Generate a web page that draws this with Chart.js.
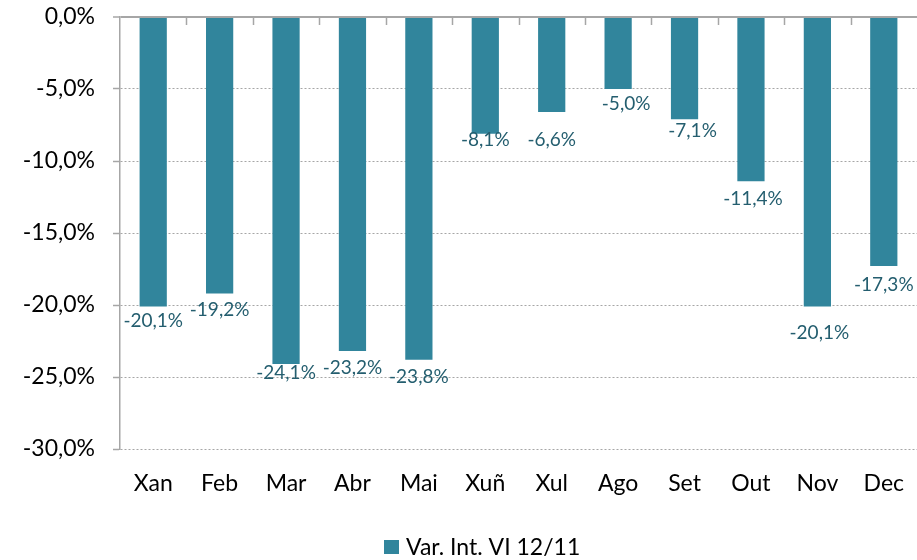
<!DOCTYPE html>
<html>
<head>
<meta charset="utf-8">
<script src="https://cdn.jsdelivr.net/npm/chart.js@4/dist/chart.umd.min.js"></script>
<style>
  html, body { margin: 0; padding: 0; background: #fff; }
  #wrap { width: 917px; height: 560px; }
</style>
</head>
<body>
<div id="wrap"><canvas id="c" width="917" height="560"></canvas></div>
<script>
// Monthly year-on-year variation, 2012 vs 2011
const months = ['Xan', 'Feb', 'Mar', 'Abr', 'Mai', 'Xuñ', 'Xul', 'Ago', 'Set', 'Out', 'Nov', 'Dec'];
const variation = [-20.1, -19.2, -24.1, -23.2, -23.8, -8.1, -6.6, -5.0, -7.1, -11.4, -20.1, -17.3];
const seriesName = 'Var. Int. VI 12/11';
const yTicks = [0, -5, -10, -15, -20, -25, -30];

const BAR = '#31859C';
const LABEL = '#245E6F';
const AXIS = '#A6A6A6';
const FONT = 'Lato';

const pct = v => (Math.abs(v) < 1e-9 ? 0 : v).toFixed(1).replace('.', ',') + '%';

// Value labels under each bar end (hand-placed nudges per month)
const valueLabels = {
  id: 'valueLabels',
  afterDatasetsDraw(chart, args, opts) {
    const { ctx } = chart;
    const meta = chart.getDatasetMeta(0);
    ctx.save();
    ctx.font = `19px ${FONT}`;
    ctx.fillStyle = LABEL;
    ctx.textAlign = 'center';
    ctx.textBaseline = 'alphabetic';
    meta.data.forEach((bar, i) => {
      const v = chart.data.datasets[0].data[i];
      const dx = opts.dx[i] || 0;
      const dy = opts.dy[i] || 0;
      ctx.fillText(pct(v), bar.x + dx, bar.y + dy + 6.8);
    });
    ctx.restore();
  }
};

// Small tick marks on the zero line between categories, pointing into the plot
const zeroTicks = {
  id: 'zeroTicks',
  afterDraw(chart) {
    const { ctx } = chart;
    const x = chart.scales.x, y = chart.scales.y;
    const y0 = y.getPixelForValue(0);
    ctx.save();
    ctx.strokeStyle = AXIS;
    ctx.lineWidth = 1.5;
    ctx.beginPath();
    for (let i = 1; i < months.length; i++) {
      const bx = Math.round((x.getPixelForValue(i - 1) + x.getPixelForValue(i)) / 2) + 0.5;
      ctx.moveTo(bx, y0);
      ctx.lineTo(bx, y0 + 8);
    }
    ctx.stroke();
    ctx.restore();
  }
};

// Legend drawn under the axis labels
const bottomLegend = {
  id: 'bottomLegend',
  afterDraw(chart) {
    const { ctx } = chart;
    ctx.save();
    ctx.fillStyle = BAR;
    ctx.fillRect(384, 540, 15, 14);
    ctx.fillStyle = '#000';
    ctx.font = `23px ${FONT}`;
    ctx.textAlign = 'left';
    ctx.textBaseline = 'alphabetic';
    ctx.fillText(chart.data.datasets[0].label, 406, 555);
    ctx.restore();
  }
};

new Chart(document.getElementById('c'), {
  type: 'bar',
  data: {
    labels: months,
    datasets: [{
      label: seriesName,
      data: variation,
      backgroundColor: BAR,
      borderWidth: 0,
      barPercentage: 0.41,
      categoryPercentage: 1
    }]
  },
  options: {
    responsive: false,
    animation: false,
    layout: { padding: { top: 17, right: 0, bottom: 0, left: 0 } },
    plugins: {
      legend: { display: false },
      tooltip: { enabled: false },
      valueLabels: {
        dx: [0, 0, 0, 0, 0, 0, 0, 8, 8, 2, 2, 0],
        dy: [13.6, 15.5, 7.7, 16.5, 16, 5.5, 27, 14, 11, 17, 26, 18]
      }
    },
    scales: {
      x: {
        position: 'bottom',
        grid: { display: false, drawTicks: false },
        border: { display: false },
        ticks: { color: '#000', font: { family: FONT, size: 23 }, padding: 21, maxRotation: 0 },
        afterFit(s) { s.height = 111; s.paddingLeft = 0; s.paddingRight = 0; }
      },
      y: {
        min: -30,
        max: 0,
        afterBuildTicks(s) { s.ticks = yTicks.map(v => ({ value: v })); },
        ticks: {
          color: '#000',
          font: { family: FONT, size: 23 },
          padding: 18,
          callback: v => pct(v)
        },
        grid: {
          color: AXIS,
          lineWidth: c => (c.tick && c.tick.value === 0 ? 2 : 1),
          tickColor: AXIS,
          tickWidth: 1.5,
          tickLength: 7
        },
        border: {
          display: true,
          color: AXIS,
          width: 1.5,
          dash: c => (c.tick && c.tick.value === 0 ? [] : [2, 2])
        },
        afterFit(s) { s.width = 120; s.paddingTop = 0; s.paddingBottom = 0; }
      }
    }
  },
  plugins: [valueLabels, zeroTicks, bottomLegend]
});
</script>
</body>
</html>
